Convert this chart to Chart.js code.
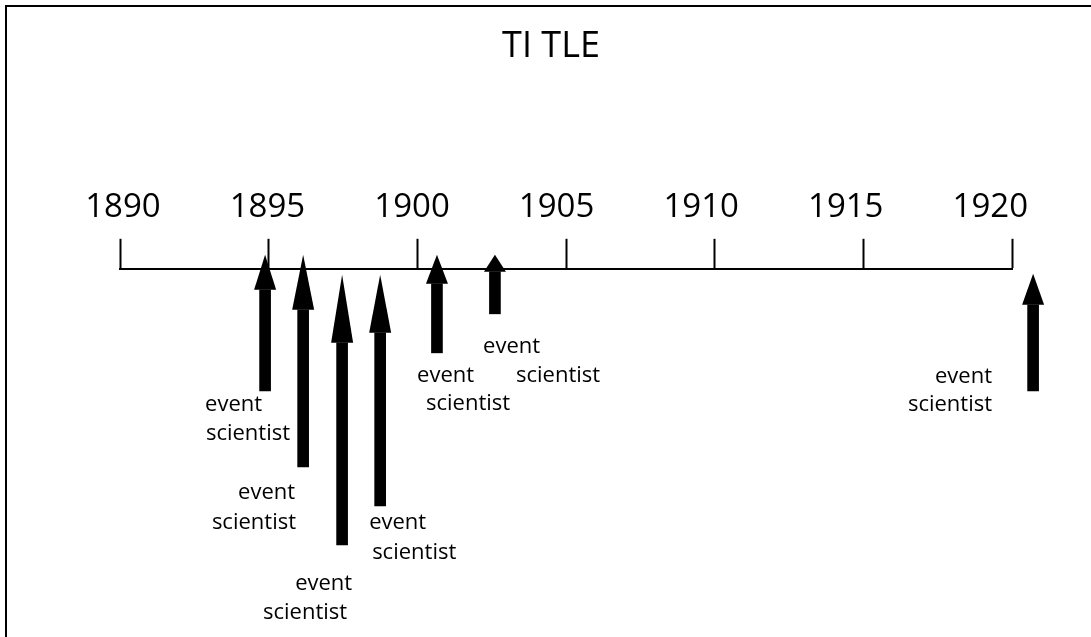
<!DOCTYPE html>
<html>
<head>
<meta charset="utf-8">
<title>Timeline</title>
<script src="https://cdn.jsdelivr.net/npm/chart.js@4.4.1/dist/chart.umd.min.js"></script>
<style>
  body { margin: 0; background: #fff; }
  #wrap { width: 1091px; height: 637px; }
</style>
</head>
<body>
<div id="wrap"><canvas id="timeline"></canvas></div>
<script>
const tickYears = [1890, 1895, 1900, 1905, 1910, 1915, 1920];

// one entry per arrow (depth = distance below the time line)
const eventYears = [1894.88, 1896.16, 1897.47, 1898.75, 1900.66, 1902.61, 1920.71];
const tipDepth = [-14, -14, 6, 6, -14, -14, 5];
const headDepth = [21, 41, 74, 64, 15, 3, 36];
const tailDepth = [122, 198, 276, 237, 84, 45, 122];

// text under each arrow
const eventLabels = ["event", "event", "event", "event", "event", "event", "event"];
const scientistLabels = ["scientist", "scientist", "scientist", "scientist", "scientist", "scientist", "scientist"];
const eventLabelX = [1892.86, 1893.97, 1895.89, 1898.38, 1899.99, 1902.21, 1917.41];
const scientistLabelX = [1892.89, 1893.09, 1894.81, 1898.48, 1900.29, 1903.32, 1916.5];
const eventLabelDepth = [136, 224, 315, 254, 107, 78, 108];
const scientistLabelDepth = [165, 254, 344, 284, 135, 107, 136];

// ==============================================

const frame = {
  id: "frame",
  beforeDraw(chart) {
    const ctx = chart.ctx;
    ctx.save();
    ctx.fillStyle = "#fff";
    ctx.fillRect(0, 0, chart.width, chart.height);
    ctx.strokeStyle = "#000";
    ctx.lineWidth = 2;
    ctx.beginPath();
    ctx.moveTo(6, chart.height);
    ctx.lineTo(6, 6);
    ctx.lineTo(chart.width, 6);
    ctx.stroke();
    ctx.restore();
  },
};

const arrowHeads = {
  id: "arrowHeads",
  afterDatasetsDraw(chart) {
    const ctx = chart.ctx;
    const xs = chart.scales.x;
    const ys = chart.scales.y;
    ctx.save();
    ctx.fillStyle = "#000";
    eventYears.forEach((yr, i) => {
      const cx = xs.getPixelForValue(yr);
      const tip = ys.getPixelForValue(tipDepth[i]);
      const base = ys.getPixelForValue(headDepth[i]);
      ctx.beginPath();
      ctx.moveTo(cx - 11, base);
      ctx.lineTo(cx, tip);
      ctx.lineTo(cx + 11, base);
      ctx.closePath();
      ctx.fill();
    });
    ctx.restore();
  },
};

const eventText = {
  id: "eventText",
  afterDatasetsDraw(chart) {
    const ctx = chart.ctx;
    const xs = chart.scales.x;
    const ys = chart.scales.y;
    ctx.save();
    ctx.fillStyle = "#000";
    ctx.font = "22px 'Open Sans'";
    ctx.textAlign = "left";
    ctx.textBaseline = "middle";
    eventYears.forEach((yr, i) => {
      ctx.fillText(eventLabels[i], xs.getPixelForValue(eventLabelX[i]), ys.getPixelForValue(eventLabelDepth[i]));
      ctx.fillText(scientistLabels[i], xs.getPixelForValue(scientistLabelX[i]), ys.getPixelForValue(scientistLabelDepth[i]));
    });
    ctx.restore();
  },
};

// ==============================================

const ctx1 = document.getElementById("timeline");

new Chart(ctx1, {
  type: "bar",
  data: {
    datasets: [
      {
        data: eventYears.map((yr, i) => ({ x: yr, y: [headDepth[i], tailDepth[i]] })),
        backgroundColor: "#000",
        borderWidth: 0,
        barThickness: 11,
        clip: false,
        xAxisID: "x",
        yAxisID: "y",
      },
    ],
  },
  options: {
    responsive: true,
    maintainAspectRatio: false,
    animation: false,
    layout: { padding: { top: 0, left: 11, right: 0, bottom: 0 } },
    plugins: {
      legend: { display: false },
      tooltip: { enabled: false },
      title: {
        display: true,
        text: "TI TLE",
        color: "#000",
        font: { family: "'Open Sans'", size: 36, weight: "normal" },
        padding: { top: 25, bottom: 109 },
      },
    },
    scales: {
      // the time line itself: "|" marks and the underline
      x: {
        type: "linear",
        position: "top",
        weight: 1,
        min: 1890,
        max: 1920,
        offset: false,
        afterBuildTicks: (axis) => {
          axis.ticks = tickYears.map((v) => ({ value: v }));
        },
        ticks: { display: false },
        grid: {
          offset: false,
          drawOnChartArea: false,
          drawTicks: true,
          tickLength: 30,
          tickWidth: 2,
          tickColor: "#000",
        },
        border: { display: true, color: "#000", width: 2, dash: [22, 2] },
      },
      // the year numbers above it
      xYears: {
        type: "linear",
        position: "top",
        weight: 2,
        min: 1889.9,
        max: 1920.75,
        offset: false,
        afterBuildTicks: (axis) => {
          axis.ticks = tickYears.map((v) => ({ value: v }));
        },
        ticks: {
          color: "#000",
          padding: 11,
          maxRotation: 0,
          autoSkip: false,
          font: { family: "'Open Sans'", size: 33 },
          callback: (v) => String(v),
        },
        grid: { display: false, drawTicks: false },
        border: { display: false },
      },
      y: {
        type: "linear",
        position: "left",
        reverse: true,
        min: 0,
        max: 368,
        afterFit: (axis) => {
          axis.width = 109;
        },
        ticks: { display: false },
        grid: { display: false, drawTicks: false },
        border: { display: false },
      },
      // empty margin on the right so the line stops at 1920
      yRight: {
        type: "linear",
        position: "right",
        min: 0,
        max: 1,
        afterFit: (axis) => {
          axis.width = 79;
        },
        ticks: { display: false },
        grid: { display: false, drawTicks: false },
        border: { display: false },
      },
    },
  },
  plugins: [frame, arrowHeads, eventText],
});
</script>
</body>
</html>
